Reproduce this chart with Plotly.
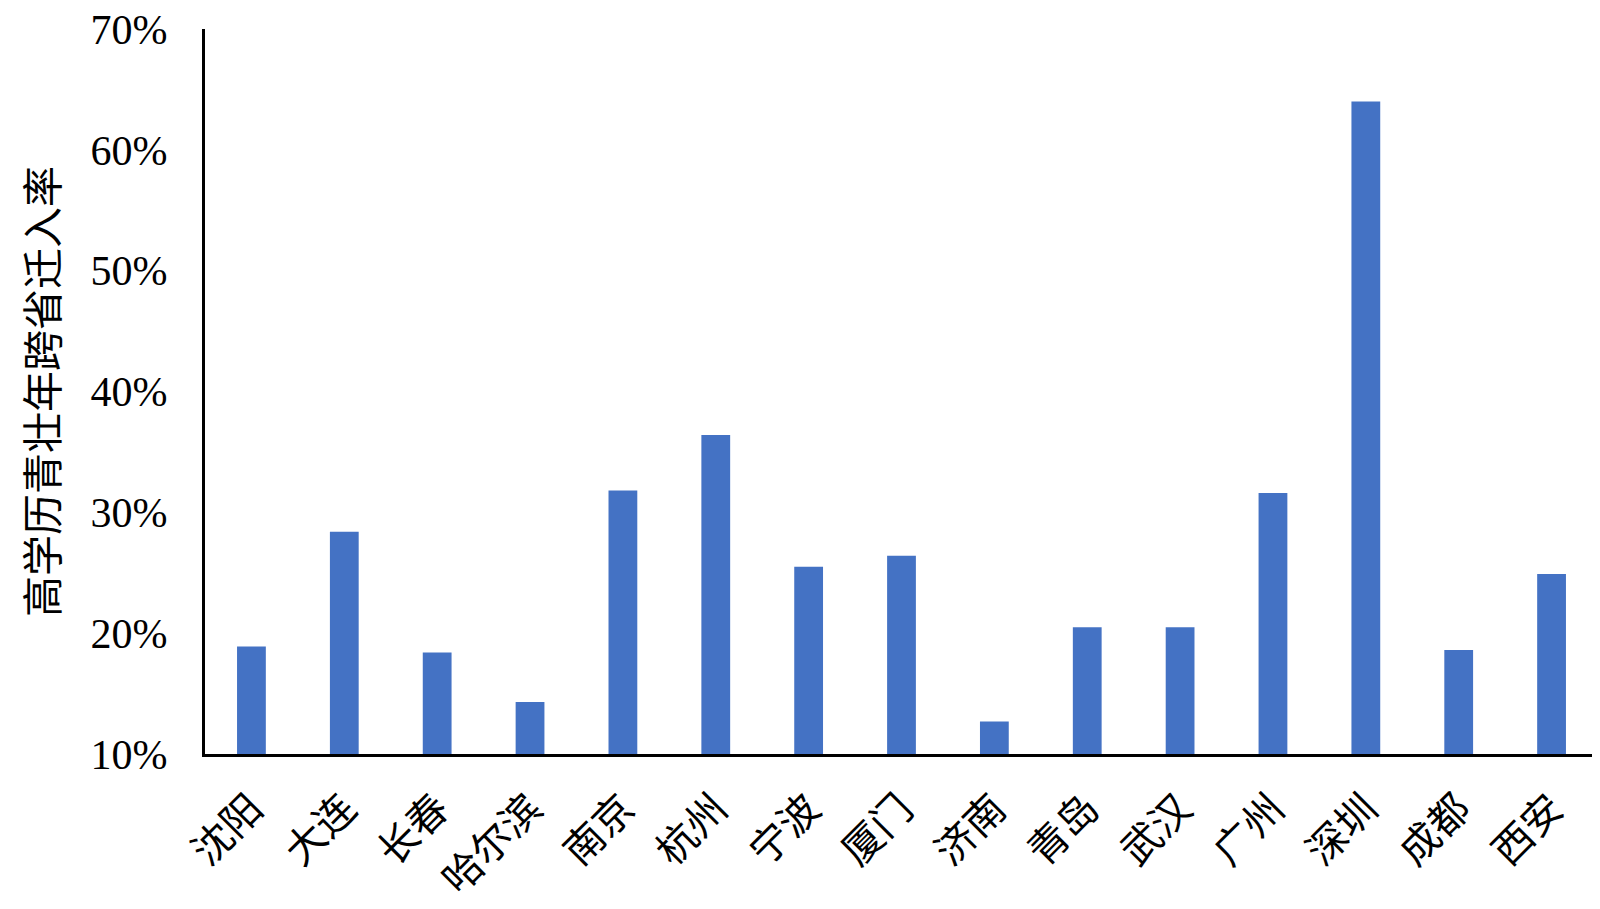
import plotly.graph_objects as go

cities = ['沈阳', '大连', '长春', '哈尔滨', '南京', '杭州', '宁波', '厦门',
          '济南', '青岛', '武汉', '广州', '深圳', '成都', '西安']
rates = [0.189, 0.284, 0.184, 0.143, 0.318, 0.364, 0.255, 0.264,
         0.127, 0.205, 0.205, 0.316, 0.640, 0.186, 0.249]
y_ticks = [0.1, 0.2, 0.3, 0.4, 0.5, 0.6, 0.7]
y_labels = ['10%', '20%', '30%', '40%', '50%', '60%', '70%']

FONT = 'Liberation Serif, Times New Roman, Noto Sans CJK SC, serif'

fig = go.Figure(
    go.Bar(x=cities, y=rates, marker_color='#4472C4', marker_line_width=0)
)

fig.update_layout(
    width=1600,
    height=909,
    margin=dict(l=197, r=10, t=21, b=163),
    plot_bgcolor='#FFF',
    paper_bgcolor='#FFF',
    font=dict(family=FONT, color='#000', size=40),
    bargap=0.69,
    showlegend=False,
)

fig.update_xaxes(
    tickangle=-45,
    tickfont=dict(size=40, family=FONT),
    ticklabelstandoff=12,
    ticklabeloverflow='allow',
    showline=True,
    linecolor='#000',
    linewidth=3,
    ticks='',
    showgrid=False,
    automargin=False,
)

fig.update_yaxes(
    range=[0.1, 0.7],
    tickvals=y_ticks,
    ticktext=y_labels,
    tickfont=dict(size=42, family=FONT),
    ticklabelstandoff=26,
    ticklabeloverflow='allow',
    showline=True,
    linecolor='#000',
    linewidth=3,
    ticks='',
    showgrid=False,
    zeroline=False,
    automargin=False,
    title=dict(text='高学历青壮年跨省迁入率', font=dict(size=41, family=FONT), standoff=20),
)

fig.write_html('out.html')
